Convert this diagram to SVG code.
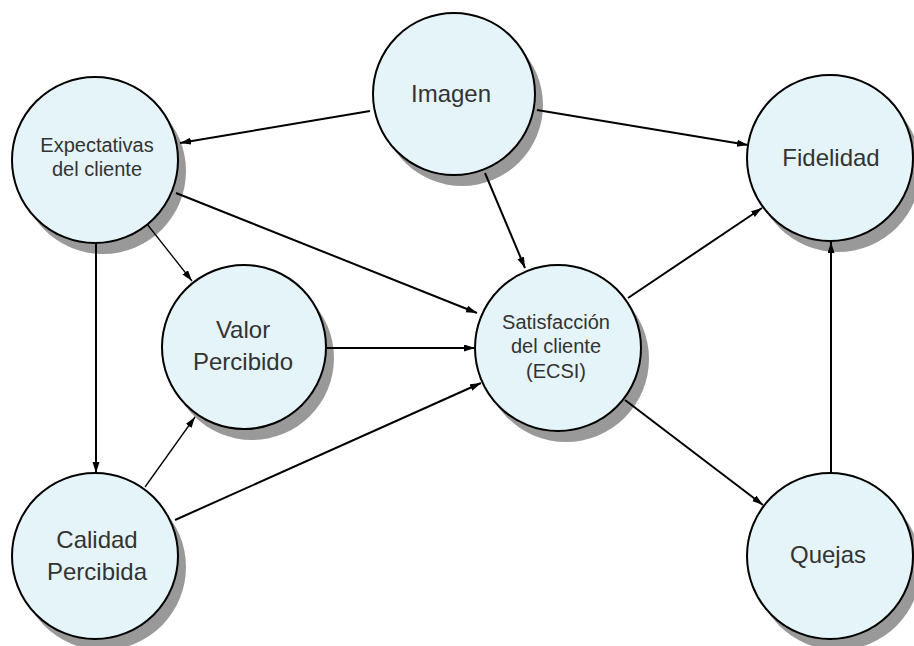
<svg xmlns="http://www.w3.org/2000/svg" width="914" height="646" viewBox="0 0 914 646">
<style>
.node{fill:#e4f4f8;stroke:#000;stroke-width:2}
.shd{fill:#999999;stroke:none}
.lbl{font-family:"Liberation Sans",Arial,sans-serif;fill:#333;text-anchor:middle}
.big{font-size:24px}
.small{font-size:20px}
.edge{stroke:#000;stroke-width:2;fill:none;marker-end:url(#arr)}
.thin{stroke-width:1.3}
</style>
<defs>
<marker id="arr" markerUnits="userSpaceOnUse" markerWidth="12" markerHeight="8" refX="11" refY="3.5" orient="auto">
<path d="M0,0 L11,3.5 L0,7 z" fill="#000"/>
</marker>
</defs>
<rect x="0" y="0" width="914" height="646" fill="#ffffff"/>
<g id="imagen">
<circle class="shd" cx="462" cy="105" r="81"/>
<circle class="node" cx="454" cy="94" r="81"/>
<text class="lbl big" x="451" y="102">Imagen</text>
</g>
<g id="expectativas">
<circle class="shd" cx="103" cy="171" r="83"/>
<circle class="node" cx="95" cy="160" r="83"/>
<text class="lbl small" x="97" y="152">Expectativas</text>
<text class="lbl small" x="97" y="176">del cliente</text>
</g>
<g id="fidelidad">
<circle class="shd" cx="838" cy="169" r="83"/>
<circle class="node" cx="830" cy="158" r="83"/>
<text class="lbl big" x="831" y="166">Fidelidad</text>
</g>
<g id="valor">
<circle class="shd" cx="252" cy="358" r="82"/>
<circle class="node" cx="244" cy="347" r="82"/>
<text class="lbl big" x="243" y="338">Valor</text>
<text class="lbl big" x="243" y="370">Percibido</text>
</g>
<g id="satisfaccion">
<circle class="shd" cx="566" cy="359" r="83"/>
<circle class="node" cx="558" cy="348" r="83"/>
<text class="lbl small" x="556" y="329">Satisfacción</text>
<text class="lbl small" x="556" y="353">del cliente</text>
<text class="lbl small" x="556" y="378">(ECSI)</text>
</g>
<g id="calidad">
<circle class="shd" cx="103" cy="567" r="83"/>
<circle class="node" cx="95" cy="556" r="83"/>
<text class="lbl big" x="97" y="548">Calidad</text>
<text class="lbl big" x="97" y="580">Percibida</text>
</g>
<g id="quejas">
<circle class="shd" cx="838" cy="567" r="83"/>
<circle class="node" cx="830" cy="556" r="83"/>
<text class="lbl big" x="828" y="563">Quejas</text>
</g>
<g id="connectors">
<line class="edge" x1="370" y1="111" x2="180" y2="143"/>
<line class="edge" x1="537" y1="110" x2="748" y2="145"/>
<line class="edge" x1="485" y1="173" x2="525" y2="268"/>
<line class="edge" x1="176" y1="193" x2="477" y2="313"/>
<line class="edge thin" x1="147" y1="224" x2="192" y2="281"/>
<line class="edge" x1="96" y1="243" x2="96" y2="473"/>
<line class="edge" x1="327" y1="348" x2="475" y2="348"/>
<line class="edge thin" x1="145" y1="487" x2="195" y2="417"/>
<line class="edge" x1="175" y1="520" x2="481" y2="383"/>
<line class="edge" x1="628" y1="298" x2="762" y2="208"/>
<line class="edge" x1="625" y1="400" x2="763" y2="505"/>
<line class="edge" x1="831" y1="473" x2="831" y2="242"/>
</g>
</svg>
